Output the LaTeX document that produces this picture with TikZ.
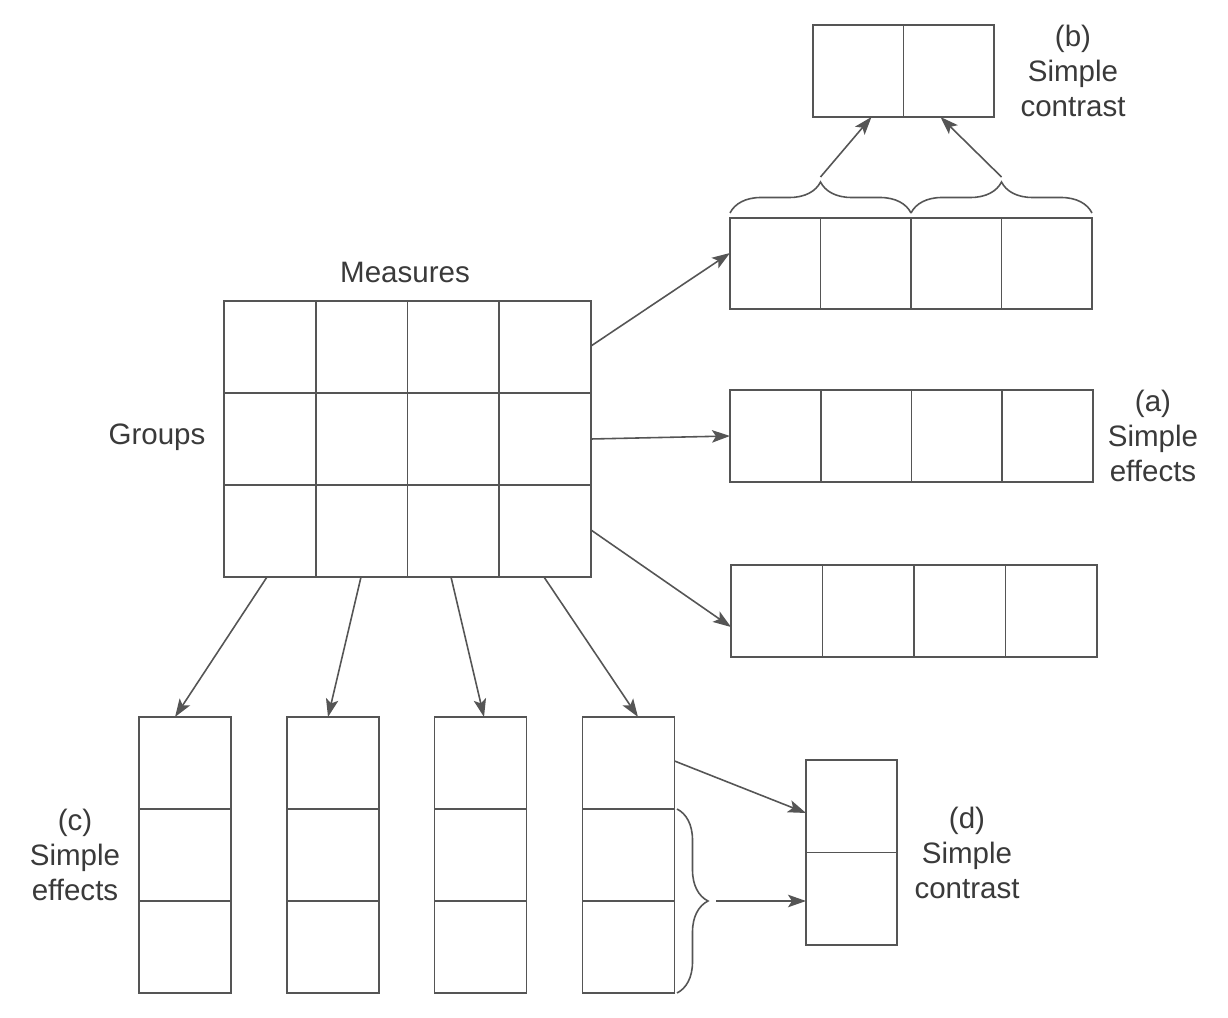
\documentclass[tikz,border=0pt]{standalone}
\usepackage{fontspec}
\setmainfont{Liberation Sans}
\usepackage{xcolor}
\usetikzlibrary{arrows.meta,decorations.pathreplacing}
\definecolor{linegray}{HTML}{555555}
\definecolor{textgray}{HTML}{3A3A3A}

\begin{document}
\begin{tikzpicture}[
	box/.style={draw=linegray, line width=0.9pt, inner sep=0, outer sep=0, minimum width=1.84cm, minimum height=1.84cm},
	divider/.style={draw=linegray, line width=0.9pt},
	arr/.style={draw=linegray, line width=0.9pt, -{Stealth[length=0.36cm, width=0.25cm, inset=0.08cm]}},
	brace/.style={draw=linegray, line width=0.9pt, decorate, decoration={brace, amplitude=0.62cm}},
	lbl/.style={font=\fontsize{16.8}{19.8}\selectfont, text=textgray, align=center, inner sep=0}
]
\useasboundingbox[fill=white] (0,0) rectangle (24.56,-20.36);

\node[box, minimum width=7.34cm, minimum height=5.52cm] (grid) at (8.15,-8.78) {};
\draw[divider] ([xshift=1.835cm]grid.north west) -- ([xshift=1.835cm]grid.south west);
\draw[divider] (grid.north) -- (grid.south);
\draw[divider] ([xshift=-1.835cm]grid.north east) -- ([xshift=-1.835cm]grid.south east);
\draw[divider] ([yshift=-1.84cm]grid.north west) -- ([yshift=-1.84cm]grid.north east);
\draw[divider] ([yshift=1.84cm]grid.south west) -- ([yshift=1.84cm]grid.south east);
\node[lbl] (measures) at (8.1,-5.44) {Measures};
\node[lbl] (groups) at (3.14,-8.74) {Groups};

\node[box, minimum width=7.24cm, minimum height=1.82cm] (strip1) at (18.22,-5.27) {};
\draw[divider] ([xshift=1.81cm]strip1.north west) -- ([xshift=1.81cm]strip1.south west);
\draw[divider] (strip1.north) -- (strip1.south);
\draw[divider] ([xshift=-1.81cm]strip1.north east) -- ([xshift=-1.81cm]strip1.south east);

\node[box, minimum width=3.62cm] (contrb) at (18.07,-1.42) {};
\draw[divider] (contrb.north) -- (contrb.south);
\node[lbl] (labelb) at (21.46,-1.42) {(b)\\Simple\\contrast};

\node[box, minimum width=7.26cm] (strip2) at (18.23,-8.72) {};
\draw[divider] ([xshift=1.815cm]strip2.north west) -- ([xshift=1.815cm]strip2.south west);
\draw[divider] (strip2.north) -- (strip2.south);
\draw[divider] ([xshift=-1.815cm]strip2.north east) -- ([xshift=-1.815cm]strip2.south east);
\node[lbl] (labela) at (23.06,-8.72) {(a)\\Simple\\effects};

\node[box, minimum width=7.32cm] (strip3) at (18.28,-12.22) {};
\draw[divider] ([xshift=1.83cm]strip3.north west) -- ([xshift=1.83cm]strip3.south west);
\draw[divider] (strip3.north) -- (strip3.south);
\draw[divider] ([xshift=-1.83cm]strip3.north east) -- ([xshift=-1.83cm]strip3.south east);

\node[box, minimum height=5.52cm] (col1) at (3.7,-17.1) {};
\node[box, minimum height=5.52cm] (col2) at (6.66,-17.1) {};
\node[box, minimum height=5.52cm] (col3) at (9.61,-17.1) {};
\node[box, minimum height=5.52cm] (col4) at (12.57,-17.1) {};
\draw[divider] ([yshift=-1.84cm]col1.north west) -- ([yshift=-1.84cm]col1.north east);
\draw[divider] ([yshift=1.84cm]col1.south west) -- ([yshift=1.84cm]col1.south east);
\draw[divider] ([yshift=-1.84cm]col2.north west) -- ([yshift=-1.84cm]col2.north east);
\draw[divider] ([yshift=1.84cm]col2.south west) -- ([yshift=1.84cm]col2.south east);
\draw[divider] ([yshift=-1.84cm]col3.north west) -- ([yshift=-1.84cm]col3.north east);
\draw[divider] ([yshift=1.84cm]col3.south west) -- ([yshift=1.84cm]col3.south east);
\draw[divider] ([yshift=-1.84cm]col4.north west) -- ([yshift=-1.84cm]col4.north east);
\draw[divider] ([yshift=1.84cm]col4.south west) -- ([yshift=1.84cm]col4.south east);
\node[lbl] (labelc) at (1.5,-17.1) {(c)\\Simple\\effects};

\node[box, minimum width=1.82cm, minimum height=3.7cm] (contrd) at (17.03,-17.05) {};
\draw[divider] (contrd.west) -- (contrd.east);
\node[lbl] (labeld) at (19.34,-17.06) {(d)\\Simple\\contrast};

\draw[arr] ([yshift=1.86cm]grid.east) -- ([yshift=0.21cm]strip1.west);
\draw[arr] (grid.east) -- (strip2.west);
\draw[arr] ([yshift=-1.82cm]grid.east) -- ([yshift=-0.32cm]strip3.west);

\draw[arr] ([xshift=-2.81cm]grid.south) -- ([xshift=-0.2cm]col1.north);
\draw[arr] ([xshift=-0.93cm]grid.south) -- ([xshift=-0.1cm]col2.north);
\draw[arr] ([xshift=0.87cm]grid.south) -- ([xshift=0.07cm]col3.north);
\draw[arr] ([xshift=2.73cm]grid.south) -- ([xshift=0.19cm]col4.north);

\draw[brace] ([yshift=0.1cm]strip1.north west) -- ([yshift=0.1cm]strip1.north) coordinate[midway, yshift=0.72cm] (bracel);
\draw[brace] ([yshift=0.1cm]strip1.north) -- ([yshift=0.1cm]strip1.north east) coordinate[midway, yshift=0.72cm] (bracer);
\draw[arr] (bracel) -- ([xshift=-0.64cm]contrb.south);
\draw[arr] (bracer) -- ([xshift=0.74cm]contrb.south);

\draw[brace] ([xshift=0.05cm, yshift=-1.84cm]col4.north east) -- ([xshift=0.05cm]col4.south east) coordinate[midway, xshift=0.78cm] (bracec);
\draw[arr] ([yshift=1.88cm]col4.east) -- ([yshift=0.79cm]contrd.west);
\draw[arr] (bracec) -- (bracec -| contrd.west);
\end{tikzpicture}
\end{document}
